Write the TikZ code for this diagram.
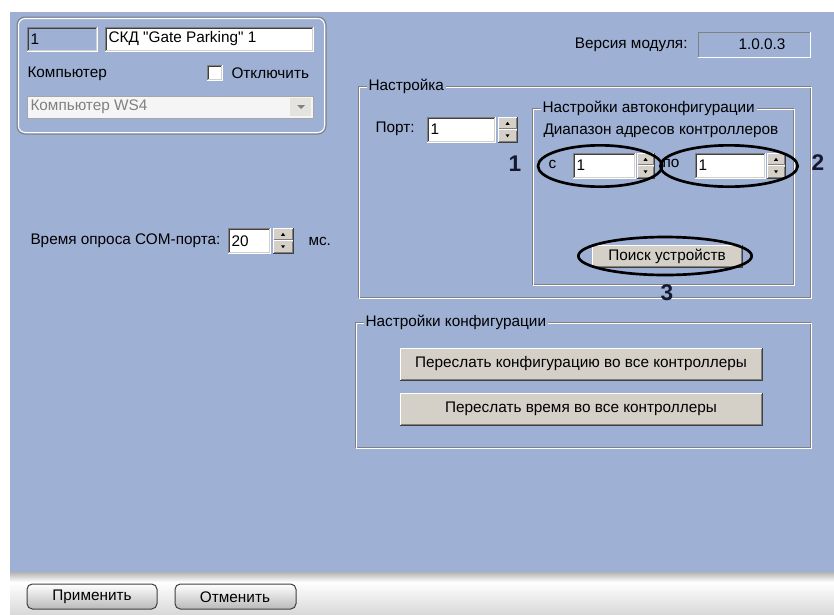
\documentclass[tikz,border=0pt]{standalone}
\usepackage{fontspec}
\setmainfont{Liberation Sans}[Ligatures=TeXOff]
\usetikzlibrary{shapes.geometric}
\definecolor{bg}{RGB}{158,176,212}
\definecolor{btn}{RGB}{212,208,200}
\definecolor{dk}{RGB}{64,64,64}
\definecolor{gr}{RGB}{128,128,128}
\definecolor{numc}{RGB}{20,24,48}
\newcommand{\grpbox}[4]{%
  \draw[gr] ({#1},{#2}) rectangle ({#3},{#4});
  \draw[white] ({#1+1},{#2+1}) rectangle ({#3+1},{#4+1});}
\newcommand{\sunkenbox}[5]{%
  \fill[#5] ({#1},{#2}) rectangle ({#3},{#4});
  \draw[gr] ({#1},{#4}) -- ({#1},{#2}) -- ({#3},{#2});
  \draw[dk] ({#1+1},{#4-1}) -- ({#1+1},{#2+1}) -- ({#3-1},{#2+1});
  \draw[white] ({#1},{#4}) -- ({#3},{#4}) -- ({#3},{#2});
  \draw[btn] ({#1+1},{#4-1}) -- ({#3-1},{#4-1}) -- ({#3-1},{#2+1});}
\newcommand{\raisedbox}[4]{%
  \fill[btn] ({#1},{#2}) rectangle ({#3},{#4});
  \draw[white] ({#1},{#4}) -- ({#1},{#2}) -- ({#3},{#2});
  \draw[dk] ({#1},{#4}) -- ({#3},{#4}) -- ({#3},{#2});
  \draw[gr] ({#1+1},{#4-1}) -- ({#3-1},{#4-1}) -- ({#3-1},{#2+1});}
\newcommand{\spinbox}[4]{%
  \raisedbox{#1}{#2}{#3}{(#2+#4)/2}
  \raisedbox{#1}{(#2+#4)/2}{#3}{#4}
  \fill[black] ({(#1+#3)/2-2},{(#2+#4)/4+#2/2+1.5}) -- ({(#1+#3)/2+2},{(#2+#4)/4+#2/2+1.5}) -- ({(#1+#3)/2},{(#2+#4)/4+#2/2-1.5}) -- cycle;
  \fill[black] ({(#1+#3)/2-2},{(#2+#4)/4+#4/2-1.5}) -- ({(#1+#3)/2+2},{(#2+#4)/4+#4/2-1.5}) -- ({(#1+#3)/2},{(#2+#4)/4+#4/2+1.5}) -- cycle;}
\begin{document}
\begin{tikzpicture}[x=0.75pt,y=-0.75pt,line width=0.75pt,
  font=\fontsize{11.5}{13}\selectfont,
  lbl/.style={anchor=west,inner sep=0pt,text=black},
  ttl/.style={anchor=west,inner sep=1.5pt,fill=bg,text=black},
  num/.style={inner sep=0pt,text=numc,font=\fontsize{17}{18}\selectfont\bfseries},
  ringmark/.style={draw=black,line width=2pt,ellipse,inner sep=0pt}]
\useasboundingbox (0,0) rectangle (834,614);
\fill[white] (0,0) rectangle (834,614);
\fill[bg] (10,12) rectangle (834,572);
% top-left panel
\draw[gr,rounded corners=6pt] (17,17) rectangle (326,134);
\draw[white,rounded corners=5pt] (18.5,18.5) rectangle (324.5,132.5);
\sunkenbox{27}{27}{97}{51}{bg}
\node[lbl] (idf) at (30,39) {1};
\sunkenbox{105}{27}{313}{51}{white}
\node[lbl] (namef) at (108,39) {СКД "Gate Parking" 1};
\node[lbl] (comp) at (27,74) {Компьютер};
\sunkenbox{207}{65}{222}{80}{white}
\node[lbl] (dis) at (231,73) {Отключить};
\fill[white!96!black] (27,96) rectangle (313,118);
\draw[gray!70] (27,96) rectangle (313,118);
\fill[btn!60!white] (290,98) rectangle (311,116);
\fill[gray] (297,105) -- (305,105) -- (301,109) -- cycle;
\node[lbl,text=gray] (combo) at (30,107) {Компьютер WS4};
% version
\node[inner sep=0pt,anchor=east] (verl) at (688,45) {Версия модуля:};
\fill[bg] (698,32) rectangle (810,57);
\draw[gr] (698,57) -- (698,32) -- (810,32);
\draw[white] (698,57) -- (810,57) -- (810,32);
\node[inner sep=0pt] (ver) at (762,44) {1.0.0.3};
% Настройка group
\grpbox{358}{86}{810}{297}
\node[ttl] (nastr) at (366,86) {Настройка};
\node[lbl] (port) at (375,129) {Порт:};
\sunkenbox{427}{117}{495}{142}{white}
\node[lbl] (portv) at (430,129) {1};
\spinbox{498}{117}{517}{142}
% autoconfig
\grpbox{532}{108}{793}{284}
\node[ttl] (auto) at (540,108) {Настройки автоконфигурации};
\node[lbl] (range) at (543,131) {Диапазон адресов контроллеров};
\node[lbl] (cfrom) at (548,164) {с};
\sunkenbox{573}{153}{635}{178}{white}
\node[lbl] (cfromv) at (576,165) {1};
\spinbox{637}{153}{654}{178}
\node[lbl] (cto) at (662,163) {по};
\sunkenbox{695}{153}{765}{178}{white}
\node[lbl] (ctov) at (698,165) {1};
\spinbox{767}{153}{785}{178}
\raisedbox{592}{245}{742}{267}
\node[inner sep=0pt] (search) at (667,256) {Поиск устройств};
\node[ringmark,minimum width=93pt,minimum height=31pt] (e1) at (600,166) {};
\node[ringmark,minimum width=103pt,minimum height=31pt] (e2) at (729,166) {};
\node[ringmark,minimum width=130pt,minimum height=28.5pt] (e3) at (665,256) {};
\node[num] (n1) at (515,164) {1};
\node[num] (n2) at (818,163) {2};
\node[num] (n3) at (667,293) {3};
% COM port
\node[lbl] (poll) at (30,241) {Время опроса СОМ-порта:};
\sunkenbox{228}{228}{270}{253}{white}
\node[lbl] (pollv) at (231,241) {20};
\spinbox{273}{228}{293}{253}
\node[lbl] (ms) at (308,241) {мс.};
% config group
\grpbox{355}{322}{810}{447}
\node[ttl] (conf) at (363,322) {Настройки конфигурации};
\raisedbox{400}{348}{762}{380}
\node[inner sep=0pt] (b1) at (581,364) {Переслать конфигурацию во все контроллеры};
\raisedbox{400}{393}{762}{425}
\node[inner sep=0pt] (b2) at (581,409) {Переслать время во все контроллеры};
% bottom bar
\shade[top color=gray!60!white,bottom color=white] (10,572) rectangle (834,582);
\shade[top color=white,bottom color=gray!30] (10,582) rectangle (834,614);
\shade[top color=white,bottom color=gray!55,rounded corners=4pt,draw=dk] (27,584) rectangle (157,609);
\node[inner sep=0pt] (apply) at (92,597) {Применить};
\shade[top color=white,bottom color=gray!55,rounded corners=4pt,draw=dk] (175,584) rectangle (296,609);
\node[inner sep=0pt] (cancel) at (235,597) {Отменить};
\end{tikzpicture}
\end{document}
